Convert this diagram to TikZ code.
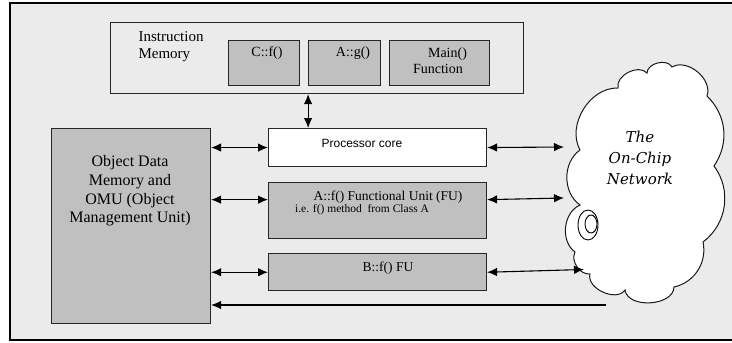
\documentclass[tikz,border=0pt]{standalone}
\usepackage{fontspec}
\setmainfont{Liberation Serif}
\setsansfont{Liberation Sans}
\newfontfamily\netfont{DejaVu Serif}
\usepackage{tikz}
\usetikzlibrary{arrows.meta, positioning}
\definecolor{panel}{HTML}{EBEBEB}
\definecolor{boxgray}{HTML}{C0C0C0}
\tikzset{
  tip/.tip={Latex[length=10pt,width=8.5pt]}, % filled triangle tips
  link/.style={tip-tip}, % connectors with tips at both ends
  every node/.style={inner sep=0pt}, % text sits right on its point
}

\begin{document}
\begin{tikzpicture}[x=1pt, y=-1pt, line width=1.1pt,
    box/.style = {draw=black!85, fill=boxgray, anchor=north west, minimum width=#1},
    lbl/.style = {font=\fontsize{14}{16}\selectfont},
    net/.style = {draw=black!90, fill=white, line width=1pt}]
    \useasboundingbox (0,0) rectangle (732,343);

    % panel and frame
    \fill[panel] (10,3) rectangle (732,340);
    \draw[line width=1.8pt] (732,3) -- (10,3) -- (10,340) -- (732,340);

    % instruction memory
    \node[box=413pt, minimum height=71pt, fill=none] (imem) at (110,22) {};
    \node[font=\fontsize{15}{17}\selectfont, align=left] (imemtxt) at (171,47) {Instruction\\Memory};
    \node[box=71pt, minimum height=45pt] (cf) at (228,40) {};
    \node[box=72pt, minimum height=45pt, right=8pt of cf] (ag) {};
    \node[box=100pt, minimum height=45pt, right=8pt of ag] (mainf) {};
    \node[lbl] (cftxt) at (267,53) {C::f()};
    \node[lbl] (agtxt) at (353,53) {A::g()};
    \node[lbl, align=left] (mainftxt) at (440,61) {\hspace*{15pt}Main()\\Function};

    % processor and functional units
    \node[box=218pt, minimum height=38pt, fill=white] (pc) at (268,128) {};
    \node[box=218pt, minimum height=56pt, below=15pt of pc] (afu) {};
    \node[box=218pt, minimum height=37pt, below=14pt of afu] (bfu) {};
    \node[font=\sffamily\fontsize{12}{14}\selectfont] (pctxt) at (362,143) {Processor core};
    \node[font=\fontsize{13.5}{15}\selectfont] (afutxt) at (388,197) {A::f() Functional Unit (FU)};
    \node[font=\fontsize{11.5}{13}\selectfont] (afunote) at (362,210) {i.e. f() method\ \ from Class A};
    \node[font=\fontsize{13.5}{15}\selectfont] (bfutxt) at (388,268) {B::f() FU};

    % object data memory
    \node[box=159pt, minimum height=195pt] (odm) at (51,128) {};
    \node[font=\fontsize{16}{18.7}\selectfont, align=center] (odmtxt) at (130,191)
        {Object Data\\Memory and\\OMU (Object\\Management Unit)};

    % the cloud
    \draw[net] (580,150) to[bend left=60] (618,88) to[bend left=75] (647,73)
        to[bend left=75] (672,67) to[bend left=70] (707,96) to[bend left=40] (714,166)
        to[bend left=45] (703,242) to[bend left=45] (674,287) to[bend left=85] (625,290)
        to[bend left=80] (590,274) to[bend left=60] (575,252) to[bend left=60] (580,205)
        to[bend left=55] (580,150);
    \draw[line width=0.9pt] (588,225) ellipse [x radius=10pt, y radius=15pt];
    \draw[line width=0.9pt] (591,224) ellipse [x radius=6pt, y radius=9pt];
    \node[font=\netfont\itshape\fontsize{15}{21}\selectfont, align=center] (net) at (640,158)
        {The\\On-Chip\\Network};

    \coordinate (netpc) at (564,147);
    \coordinate (netafu) at (564,198);
    \coordinate (netbfu) at (584,269.5);
    \coordinate (netodm) at (606,305);
    \coordinate (afuin) at ([yshift=11pt]afu.west);
    \coordinate (afuout) at ([yshift=11pt]afu.east);

    \path[link]
    (imem.south -| ag.west) edge (pc.north -| ag.west)
    (pc.west -| odm.east) edge (pc.west)
    (afuin -| odm.east) edge (afuin)
    (bfu.west -| odm.east) edge (bfu.west)
    (pc.east) edge (netpc)
    (afuout) edge (netafu)
    (bfu.east) edge (netbfu)
    (netodm) edge[-tip] (netodm -| odm.east)
    ;

\end{tikzpicture}
\end{document}
